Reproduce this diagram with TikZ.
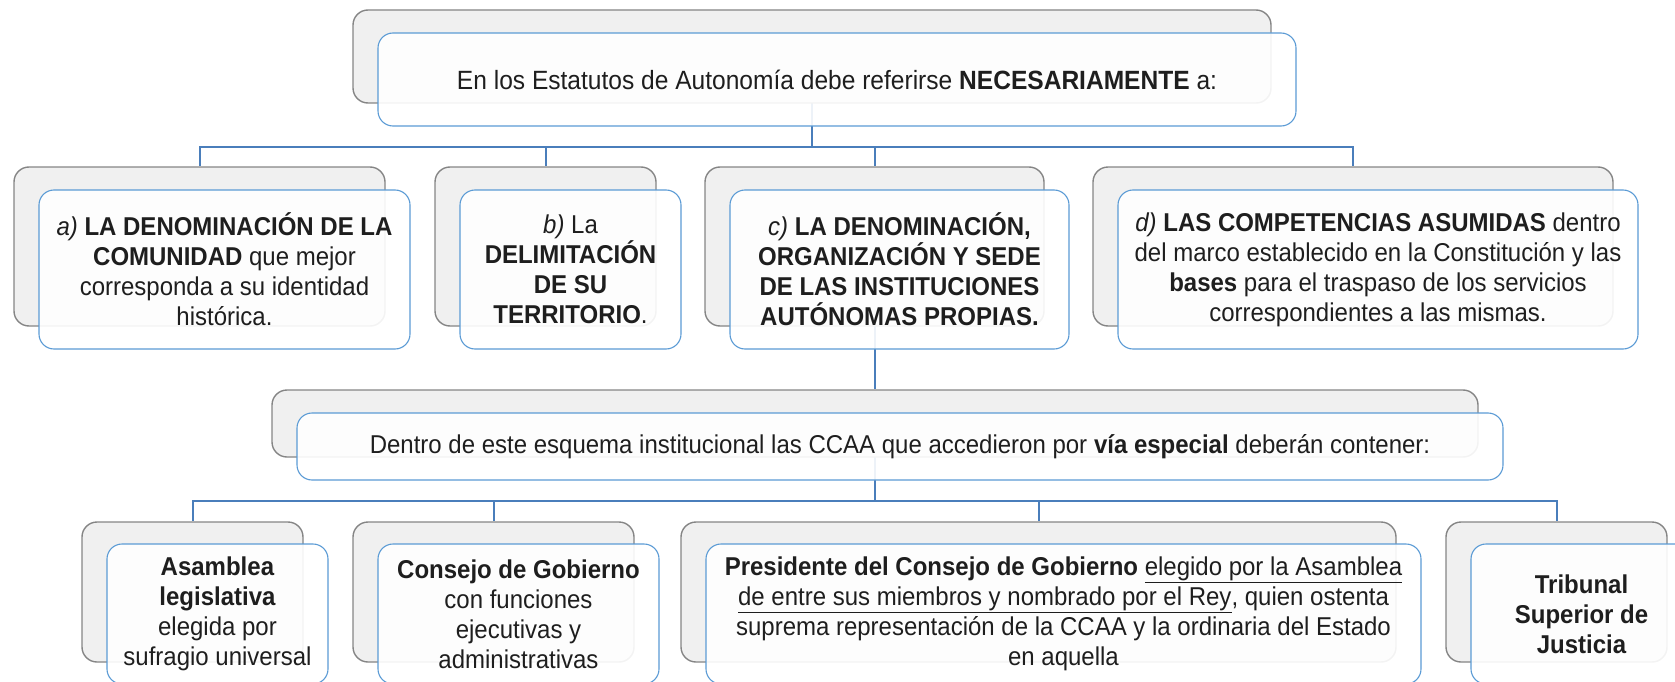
\documentclass[tikz,border=0pt]{standalone}
\usepackage{fontspec}
\setmainfont{Liberation Sans}[FakeStretch=0.93]
\usepackage{tikz}
\usepackage{xcolor}
\usetikzlibrary{backgrounds}

\definecolor{linea}{HTML}{4A7EBB}
\definecolor{borde}{HTML}{5B9BD5}
\definecolor{gris}{HTML}{F0F0F0}
\definecolor{grisborde}{HTML}{858585}
\definecolor{texto}{HTML}{1E1E1E}

\begin{document}
\begin{tikzpicture}[x=1pt,y=-1pt,
    fondo/.style={draw=grisborde,line width=1.4pt,fill=gris,rounded corners=15pt,inner sep=0pt},
    tarjeta/.style={draw=borde,line width=1.1pt,fill=white,fill opacity=0.9,text opacity=1,
        rounded corners=15pt,inner sep=0pt,align=center,text=texto,
        font=\fontsize{25.8}{30}\selectfont},
    conn/.style={draw=linea,line width=2pt}]
    \useasboundingbox (0,0) rectangle (1675,682);
    \clip (0,0) rectangle (1675,682);

    % primer nivel
    \node[fondo,minimum width=918,minimum height=93] (statut-bg) at (812,56.5) {};
    \node[tarjeta,minimum width=918,minimum height=93,font=\fontsize{26.4}{30}\selectfont] (statut)
        at ([shift={(25,23)}]statut-bg.center)
        {En los Estatutos de Autonomía debe referirse \textbf{NECESARIAMENTE} a:};

    % segundo nivel
    \node[fondo,minimum width=371,minimum height=159] (denom-bg) at (199.5,246.5) {};
    \node[tarjeta,minimum width=371,minimum height=159] (denom) at ([shift={(25,23)}]denom-bg.center)
        {\textit{a)} \textbf{LA DENOMINACIÓN DE LA}\\ \textbf{COMUNIDAD} que mejor\\ corresponda a su identidad\\ histórica.};
    \node[fondo,minimum width=221,minimum height=159] (territ-bg) at (545.5,246.5) {};
    \node[tarjeta,minimum width=221,minimum height=159] (territ) at ([shift={(25,23)}]territ-bg.center)
        {\textit{b)} La\\ \textbf{DELIMITACIÓN}\\ \textbf{DE SU}\\ \textbf{TERRITORIO}.};
    \node[fondo,minimum width=339,minimum height=159] (instit-bg) at (874.5,246.5) {};
    \node[tarjeta,minimum width=339,minimum height=159] (instit) at ([shift={(25,23)}]instit-bg.center)
        {\textit{c)} \textbf{LA DENOMINACIÓN,}\\ \textbf{ORGANIZACIÓN Y SEDE}\\ \textbf{DE LAS INSTITUCIONES}\\ \textbf{AUTÓNOMAS PROPIAS.}};
    \node[fondo,minimum width=520,minimum height=159] (compet-bg) at (1353,246.5) {};
    \node[tarjeta,minimum width=520,minimum height=159] (compet) at ([shift={(25,23)}]compet-bg.center)
        {\textit{d)} \textbf{LAS COMPETENCIAS ASUMIDAS} dentro\\ del marco establecido en la Constitución y las\\ \textbf{bases} para el traspaso de los servicios\\ correspondientes a las mismas.};

    % esquema institucional
    \node[fondo,minimum width=1206,minimum height=67] (esquema-bg) at (875,423.5) {};
    \node[tarjeta,minimum width=1206,minimum height=67] (esquema) at ([shift={(25,23)}]esquema-bg.center)
        {Dentro de este esquema institucional las CCAA que accedieron por \textbf{vía especial} deberán contener:};

    % tercer nivel
    \node[fondo,minimum width=221,minimum height=140] (asamblea-bg) at (192.5,592) {};
    \node[tarjeta,minimum width=221,minimum height=140] (asamblea) at ([shift={(25,22)}]asamblea-bg.center)
        {\textbf{Asamblea}\\ \textbf{legislativa}\\ elegida por\\ sufragio universal};
    \node[fondo,minimum width=281,minimum height=140] (consejo-bg) at (493.5,592) {};
    \node[tarjeta,minimum width=281,minimum height=140] (consejo) at ([shift={(25,22)}]consejo-bg.center)
        {\textbf{Consejo de Gobierno}\\ con funciones\\ ejecutivas y\\ administrativas};
    \node[fondo,minimum width=715,minimum height=140] (presid-bg) at (1038.5,592) {};
    \node[tarjeta,minimum width=715,minimum height=140] (presid) at ([shift={(25,22)}]presid-bg.center)
        {\textbf{Presidente del Consejo de Gobierno} \underline{elegido por la Asamblea}\\
         \underline{de entre sus miembros y nombrado por el Rey}, quien ostenta\\
         suprema representación de la CCAA y la ordinaria del Estado\\ en aquella};
    \node[fondo,minimum width=221,minimum height=140] (tribunal-bg) at (1556.5,592) {};
    \node[tarjeta,minimum width=221,minimum height=140] (tribunal) at ([shift={(25,22)}]tribunal-bg.center)
        {\textbf{Tribunal}\\ \textbf{Superior de}\\ \textbf{Justicia}};

    % conectores
    \coordinate (bar1) at (812,147);
    \coordinate (bar2) at (875,501);
    \begin{scope}[on background layer]
        \draw[conn] (statut-bg.center) -- (bar1);
        \foreach \n in {denom-bg,territ-bg,instit-bg,compet-bg}
            \draw[conn] (bar1) -| (\n.north);
        \draw[conn] (instit-bg.center) -- (instit-bg.center |- esquema-bg.north);
        \draw[conn] (esquema-bg.center) -- (bar2);
        \foreach \n in {asamblea-bg,consejo-bg,presid-bg,tribunal-bg}
            \draw[conn] (bar2) -| (\n.north);
    \end{scope}
\end{tikzpicture}
\end{document}
